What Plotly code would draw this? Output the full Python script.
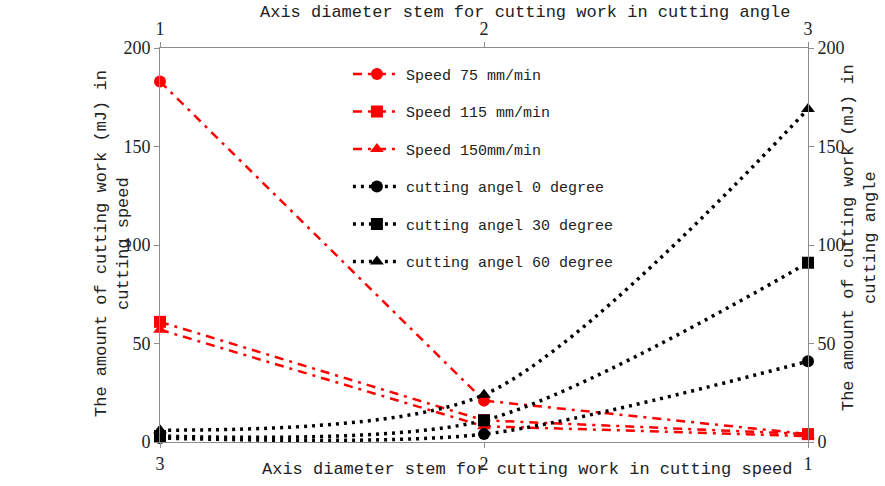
import plotly.graph_objects as go

# ---- data ----
speed_x = [3, 2, 1]
speed_75 = [183, 21, 4]
speed_115 = [61, 11, 4]
speed_150 = [57, 8, 3]

angle_x = [1, 2, 3]
angle_0 = [2, 4, 41]
angle_30 = [3, 11, 91]
angle_60 = [6, 24, 169]

y_ticks = [0, 50, 100, 150, 200]
x_ticks = [1, 2, 3]

speed_names = ["Speed 75 mm/min", "Speed 115 mm/min", "Speed 150mm/min"]
angle_names = ["cutting angel 0 degree", "cutting angel 30 degree", "cutting angel 60 degree"]

LBL = "Liberation Mono"
NUM = "Liberation Serif"
RED = "#ff0000"

fig = go.Figure()
symbols = ["circle", "square", "triangle-up"]
for i, (name, vals) in enumerate(zip(speed_names, [speed_75, speed_115, speed_150])):
    fig.add_trace(go.Scatter(
        x=speed_x, y=vals, name=name, mode="lines+markers",
        xaxis="x", yaxis="y", legendgroup="s%d" % i, cliponaxis=False,
        line=dict(color=RED, width=2.5, dash="9px,6px,3px,6px"),
        marker=dict(color=RED, symbol=symbols[i], size=12),
    ))
for i, (name, vals) in enumerate(zip(angle_names, [angle_0, angle_30, angle_60])):
    fig.add_trace(go.Scatter(
        x=angle_x, y=vals, name=name, mode="lines+markers",
        xaxis="x2", yaxis="y2", legendgroup="a%d" % i, cliponaxis=False,
        line=dict(color="black", width=3.5, dash="3px,5px", shape="spline", smoothing=0.8),
        marker=dict(color="black", symbol=symbols[i], size=12),
    ))

axis_common = dict(showgrid=False, zeroline=False, showline=True, linecolor="#8c8c8c",
                   linewidth=1, ticks="outside", ticklen=5, tickcolor="#8c8c8c",
                   tickfont=dict(family=NUM, size=18, color="#222"))

fig.update_layout(
    width=885, height=486,
    margin=dict(l=160, r=77, t=48, b=40),
    plot_bgcolor="white", paper_bgcolor="white",
    showlegend=True,
    legend=dict(x=0.29, y=0.975, xanchor="left", yanchor="top",
                bgcolor="rgba(0,0,0,0)", font=dict(family=LBL, size=15, color="#222"),
                itemwidth=48, tracegroupgap=15),
    xaxis=dict(range=[3, 1], tickvals=x_ticks, **axis_common),
    xaxis2=dict(range=[1, 3], tickvals=x_ticks, overlaying="x", side="top", **axis_common),
    yaxis=dict(range=[0, 200], tickvals=y_ticks, **axis_common),
    yaxis2=dict(range=[0, 200], tickvals=y_ticks, overlaying="y", side="right", **axis_common),
    annotations=[
        dict(text="Axis diameter stem for cutting work in cutting angle", xref="paper", yref="paper",
             x=(525 - 160) / 648, y=(446 - 12) / 398, xanchor="center", yanchor="middle",
             showarrow=False, font=dict(family=LBL, size=17, color="#222")),
        dict(text="Axis diameter stem for cutting work in cutting speed", xref="paper", yref="paper",
             x=(527 - 160) / 648, y=(446 - 474) / 398, xanchor="center", yanchor="middle",
             showarrow=False, font=dict(family=LBL, size=17, color="#222")),
        dict(text="The amount of cutting work (mJ) in<br>cutting speed", xref="paper", yref="paper",
             x=(112 - 160) / 648, y=(446 - 246) / 398, xanchor="center", yanchor="middle",
             textangle=-90, showarrow=False, font=dict(family=LBL, size=17, color="#222")),
        dict(text="The amount of cutting work (mJ) in<br>cutting angle", xref="paper", yref="paper",
             x=(859 - 160) / 648, y=(446 - 240) / 398, xanchor="center", yanchor="middle",
             textangle=-90, showarrow=False, font=dict(family=LBL, size=17, color="#222")),
    ],
)

fig.write_html("out.html")
